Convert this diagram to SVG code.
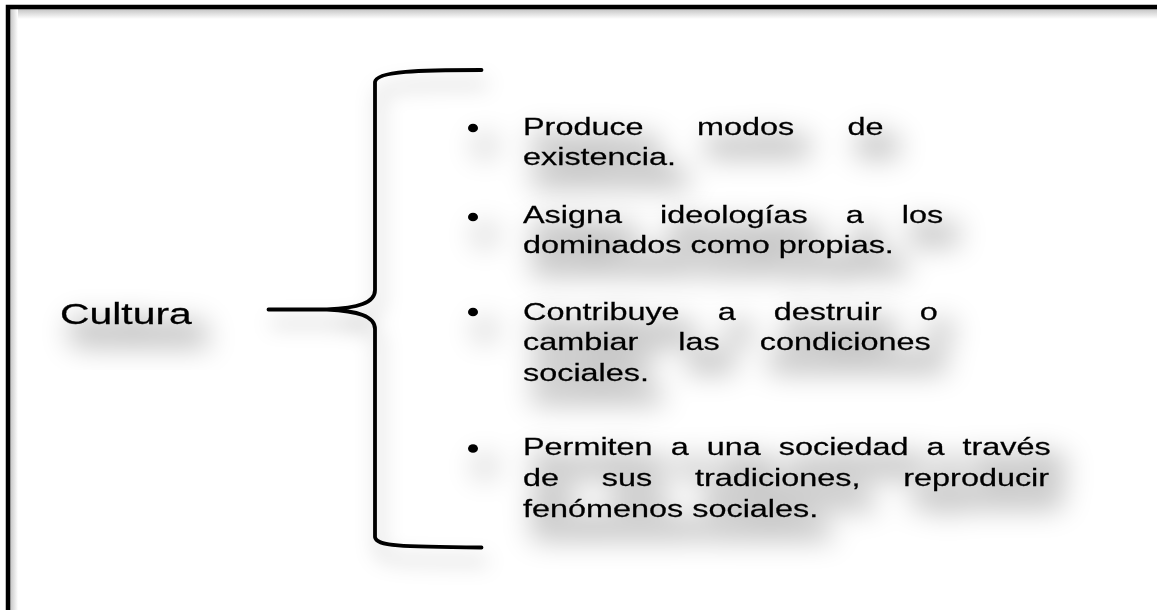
<svg xmlns="http://www.w3.org/2000/svg" width="1157" height="610" viewBox="0 0 1157 610">
<defs>
<style>
.t{font-family:"Liberation Sans",Arial,sans-serif;font-size:24px;fill:#000;stroke:#000;stroke-width:0.25;}
.c{font-family:"Liberation Sans",Arial,sans-serif;font-size:29px;fill:#000;stroke:#000;stroke-width:0.25;}
.br{fill:none;stroke:#000;stroke-width:3.8;stroke-linecap:round;stroke-linejoin:round;}
.dot{fill:#000;}
</style>
<filter id="sh" x="-30%" y="-80%" width="170%" height="300%">
<feMorphology in="SourceAlpha" operator="dilate" radius="5" result="d"/>
<feGaussianBlur in="d" stdDeviation="14" result="b"/>
<feOffset in="b" dx="12" dy="18" result="o"/>
<feFlood flood-color="#000" flood-opacity="0.24"/>
<feComposite in2="o" operator="in" result="s"/>
<feMerge><feMergeNode in="s"/><feMergeNode in="SourceGraphic"/></feMerge>
</filter>
<filter id="shb" x="-100%" y="-10%" width="300%" height="130%">
<feGaussianBlur in="SourceAlpha" stdDeviation="10" result="b"/>
<feOffset in="b" dx="4" dy="14" result="o"/>
<feFlood flood-color="#000" flood-opacity="0.3"/>
<feComposite in2="o" operator="in" result="s"/>
<feMerge><feMergeNode in="s"/><feMergeNode in="SourceGraphic"/></feMerge>
</filter>
<linearGradient id="gt" x1="0" y1="0" x2="0" y2="1"><stop offset="0" stop-color="#c4c4c4"/><stop offset="1" stop-color="#fff"/></linearGradient>
<linearGradient id="gl" x1="0" y1="0" x2="1" y2="0"><stop offset="0" stop-color="#c4c4c4"/><stop offset="1" stop-color="#fff"/></linearGradient>
</defs>
<rect width="1157" height="610" fill="#fff"/>
<g id="frame">
<rect x="10" y="9" width="1147" height="10" fill="url(#gt)"/>
<rect x="10" y="9" width="8" height="601" fill="url(#gl)"/>
<path d="M8 610 V7 H1157" fill="none" stroke="#000" stroke-width="4.5"/>
</g>
<g id="connectors" filter="url(#shb)">
<path class="br" d="M481.5 70 C420 70 376 71 375 82 L375 290 C375 303 358 308 327 309.5 L268.5 309.5 M327 309.5 C358 311 375 316 375 329 L375 537 C376 546 400 547 481.5 547.5"/>
</g>
<g id="cultura" filter="url(#sh)">
<text class="c" transform="translate(60,324) scale(1.41,1)">Cultura</text>
</g>
<g id="item1" filter="url(#sh)">
<ellipse class="dot" cx="473" cy="128" rx="5" ry="4.3"/>
<text class="t" transform="translate(523,134.5) scale(1.35,1)" word-spacing="32.8">Produce modos de</text>
<text class="t" transform="translate(523,164.5) scale(1.35,1)">existencia.</text>
</g>
<g id="item2" filter="url(#sh)">
<ellipse class="dot" cx="473" cy="217" rx="5" ry="4.3"/>
<text class="t" transform="translate(523,223) scale(1.35,1)" word-spacing="21.5">Asigna ideologías a los</text>
<text class="t" transform="translate(523,253) scale(1.35,1)">dominados como propias.</text>
</g>
<g id="item3" filter="url(#sh)">
<ellipse class="dot" cx="473" cy="312" rx="5" ry="4.3"/>
<text class="t" transform="translate(523,320) scale(1.35,1)" word-spacing="21.5">Contribuye a destruir o</text>
<text class="t" transform="translate(523,350) scale(1.35,1)" word-spacing="23">cambiar las condiciones</text>
<text class="t" transform="translate(523,381) scale(1.35,1)">sociales.</text>
</g>
<g id="item4" filter="url(#sh)">
<ellipse class="dot" cx="473" cy="448.5" rx="5" ry="4.3"/>
<text class="t" transform="translate(523,455) scale(1.35,1)" word-spacing="6.7">Permiten a una sociedad a través</text>
<text class="t" transform="translate(523,486) scale(1.35,1)" word-spacing="25">de sus tradiciones, reproducir</text>
<text class="t" transform="translate(523,517) scale(1.35,1)">fenómenos sociales.</text>
</g>
</svg>
